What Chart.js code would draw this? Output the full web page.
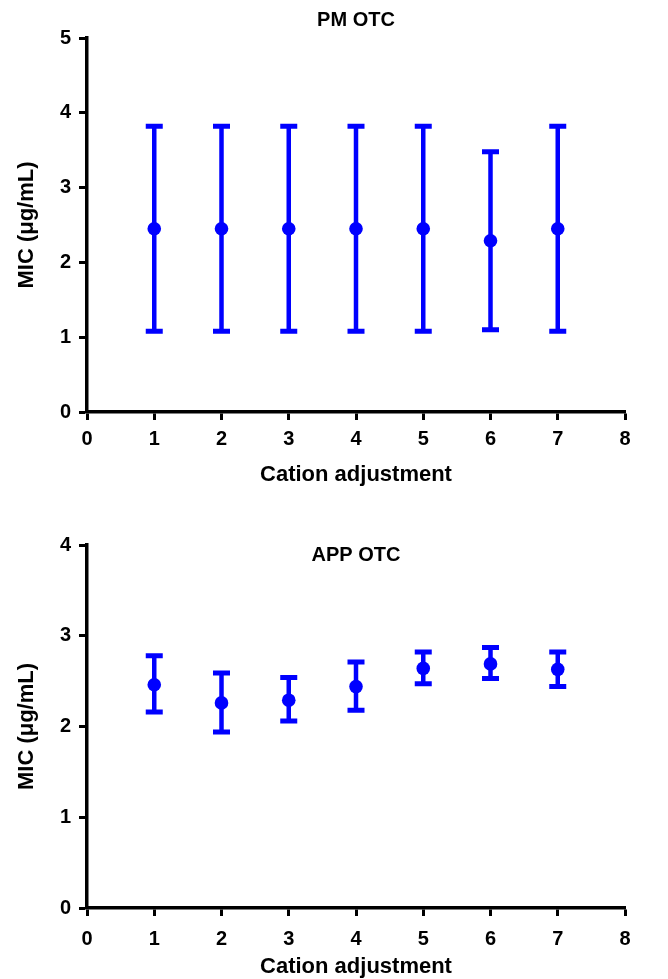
<!DOCTYPE html>
<html>
<head>
<meta charset="utf-8">
<script src="https://cdn.jsdelivr.net/npm/chart.js@4.4.1/dist/chart.umd.min.js"></script>
<style>
    html, body { margin: 0; padding: 0; background: #fff; }
    .box { position: relative; width: 668px; }
</style>
</head>
<body>
<div class="box" style="height:490px"><canvas id="pmChart"></canvas></div>
<div class="box" style="height:489px"><canvas id="appChart"></canvas></div>
<script>
// Níveis de ajuste de cátions (eixo x)
const cationLevels = [1, 2, 3, 4, 5, 6, 7];

// PM OTC — média e extremos das barras de erro
const pmMean = [2.45, 2.45, 2.45, 2.45, 2.45, 2.29, 2.45];
const pmLow  = [1.08, 1.08, 1.08, 1.08, 1.08, 1.10, 1.08];
const pmHigh = [3.82, 3.82, 3.82, 3.82, 3.82, 3.48, 3.82];

// APP OTC
const appMean = [2.46, 2.26, 2.29, 2.44, 2.64, 2.69, 2.63];
const appLow  = [2.16, 1.94, 2.06, 2.18, 2.47, 2.53, 2.44];
const appHigh = [2.78, 2.59, 2.54, 2.71, 2.82, 2.87, 2.82];

const BLUE = '#0000FF';
const FONT = "'Liberation Sans', Arial, sans-serif";

// Barras de erro desenhadas antes dos pontos, usando as escalas do gráfico
const errorBarPlugin = {
    id: 'errorBars',
    beforeDatasetsDraw: (chart, args, opts) => {
        const { ctx, scales: { x, y } } = chart;
        chart.data.datasets.forEach(ds => {
            if (!ds.errLow) return;
            ctx.save();
            ctx.strokeStyle = ds.backgroundColor;
            ds.data.forEach((pt, i) => {
                const px = x.getPixelForValue(pt.x);
                const yLo = y.getPixelForValue(ds.errLow[i]);
                const yHi = y.getPixelForValue(ds.errHigh[i]);
                ctx.lineWidth = opts.stemWidth;
                ctx.beginPath();
                ctx.moveTo(px, yLo);
                ctx.lineTo(px, yHi);
                ctx.stroke();
                ctx.lineWidth = opts.capWidth;
                ctx.beginPath();
                ctx.moveTo(px - opts.capHalf, yLo);
                ctx.lineTo(px + opts.capHalf, yLo);
                ctx.moveTo(px - opts.capHalf, yHi);
                ctx.lineTo(px + opts.capHalf, yHi);
                ctx.stroke();
            });
            ctx.restore();
        });
    }
};

const renderPanel = (canvasId, cfg) => {
    const ctx = document.getElementById(canvasId);
    if (!ctx) return;

    const points = cationLevels.map((lvl, i) => ({ x: lvl, y: cfg.mean[i] }));

    new Chart(ctx, {
        type: 'scatter',
        plugins: [errorBarPlugin],
        data: {
            datasets: [{
                data: points,
                errLow: cfg.low,
                errHigh: cfg.high,
                backgroundColor: BLUE,
                borderWidth: 0,
                pointRadius: 6.8,
                showLine: false
            }]
        },
        options: {
            responsive: true,
            maintainAspectRatio: false,
            animation: false,
            events: [],
            layout: { padding: { top: cfg.padTop, right: 43, bottom: 0, left: 0 } },
            plugins: {
                legend: { display: false },
                tooltip: { enabled: false },
                title: {
                    display: true,
                    text: cfg.title,
                    fullSize: false,
                    color: '#000',
                    font: { family: FONT, size: 20, weight: 'bold' },
                    padding: cfg.titlePad
                },
                errorBars: { stemWidth: 4.5, capWidth: 5, capHalf: 8.5 }
            },
            scales: {
                x: {
                    type: 'linear',
                    min: 0,
                    max: 8,
                    afterFit: (s) => { s.height = cfg.xHeight; },
                    border: { display: true, color: '#000', width: 3.5 },
                    grid: { drawOnChartArea: false, drawTicks: true, tickLength: 8, tickWidth: 3, color: '#000' },
                    ticks: { stepSize: 1, color: '#000', padding: cfg.xTickPad, font: { family: FONT, size: 20, weight: 'bold' } },
                    title: {
                        display: true,
                        text: 'Cation adjustment',
                        color: '#000',
                        font: { family: FONT, size: 22, weight: 'bold' },
                        padding: { top: 0, bottom: cfg.xTitlePad }
                    }
                },
                y: {
                    min: 0,
                    max: cfg.yMax,
                    afterFit: (s) => { s.width = 87; },
                    border: { display: true, color: '#000', width: 3.5 },
                    grid: { drawOnChartArea: false, drawTicks: true, tickLength: 8, tickWidth: 3, color: '#000' },
                    ticks: { stepSize: 1, color: '#000', padding: 8, font: { family: FONT, size: 20, weight: 'bold' } },
                    title: {
                        display: true,
                        text: 'MIC (μg/mL)',
                        color: '#000',
                        font: { family: FONT, size: 22, weight: 'bold' },
                        padding: { top: 14, bottom: 0 }
                    }
                }
            }
        }
    });
};

renderPanel('pmChart', {
    title: 'PM OTC', mean: pmMean, low: pmLow, high: pmHigh, yMax: 5,
    padTop: 0, titlePad: { top: 8, bottom: 6 }, xHeight: 78, xTickPad: 7, xTitlePad: 2
});

renderPanel('appChart', {
    title: 'APP OTC', mean: appMean, low: appLow, high: appHigh, yMax: 4,
    padTop: 53, titlePad: { top: 0, bottom: -22 }, xHeight: 71, xTickPad: 11, xTitlePad: -1
});
</script>
</body>
</html>
